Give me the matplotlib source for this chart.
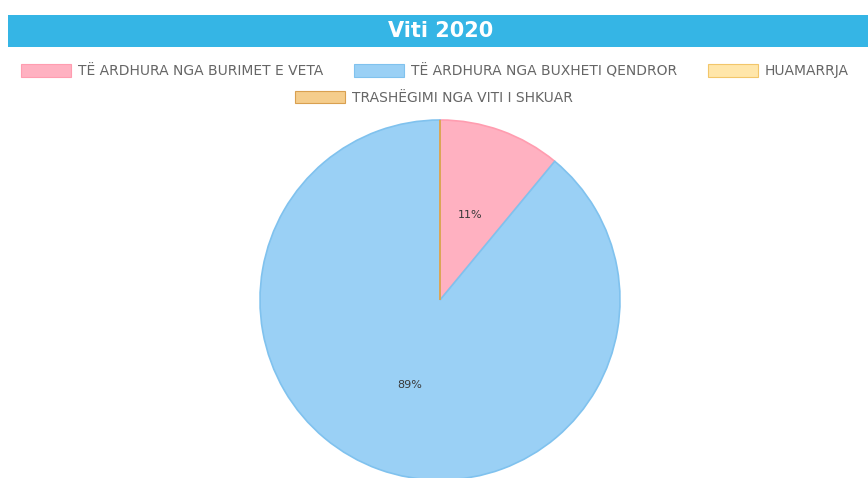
import matplotlib.pyplot as plt
from matplotlib.patches import Rectangle, Patch

# data
labels = ["TË ARDHURA NGA BURIMET E VETA", "TË ARDHURA NGA BUXHETI QENDROR",
          "HUAMARRJA", "TRASHËGIMI NGA VITI I SHKUAR"]
values = [11, 89, 0, 0]
fills = ["#FFB1C1", "#9AD0F5", "#FFE6AA", "#F5CD8C"]
edges = ["#FF9DB0", "#80C2EE", "#F2C66A", "#D9A050"]

fig = plt.figure(figsize=(8.68, 4.78), dpi=100)
W, H = 868, 478

# title bar
fig.patches.append(Rectangle((8 / W, 1 - 47 / H), 1, 32 / H, transform=fig.transFigure,
                             facecolor="#35B5E5", edgecolor="none", zorder=0))
fig.text(441 / W, 1 - 31 / H, "Viti 2020", color="white", fontsize=15, fontweight="bold",
         ha="center", va="center")

# pie
ax = fig.add_axes([260 / W, -2 / H, 360 / W, 360 / H])
wedges, texts, autotexts = ax.pie(values, colors=fills, startangle=90, counterclock=False,
                                  autopct=lambda p: f"{p:.0f}%" if p > 0 else "",
                                  pctdistance=0.5, radius=1,
                                  wedgeprops=dict(linewidth=1.2),
                                  textprops=dict(fontsize=8, color="#3a3a3a"))
for w, e in zip(wedges, edges):
    w.set_edgecolor(e)
    w.set_clip_on(False)
ax.set_xlim(-1, 1)
ax.set_ylim(-1, 1)
ax.set_aspect("equal")
ax.axis("off")

# legends
handles = [Patch(facecolor=f, edgecolor=e, linewidth=0.8) for f, e in zip(fills, edges)]
common = dict(loc="center", frameon=False, handlelength=3.6, handleheight=1.0,
              handletextpad=0.5, columnspacing=2.2, borderpad=0,
              prop=dict(size=10), labelcolor="#666666")
leg1 = fig.legend(handles[:3], labels[:3], ncol=3, bbox_to_anchor=(435 / W, 1 - 71 / H), **common)
leg2 = fig.legend(handles[3:], labels[3:], ncol=1, bbox_to_anchor=(434 / W, 1 - 98 / H), **common)

fig.savefig("out.png", dpi=100)
